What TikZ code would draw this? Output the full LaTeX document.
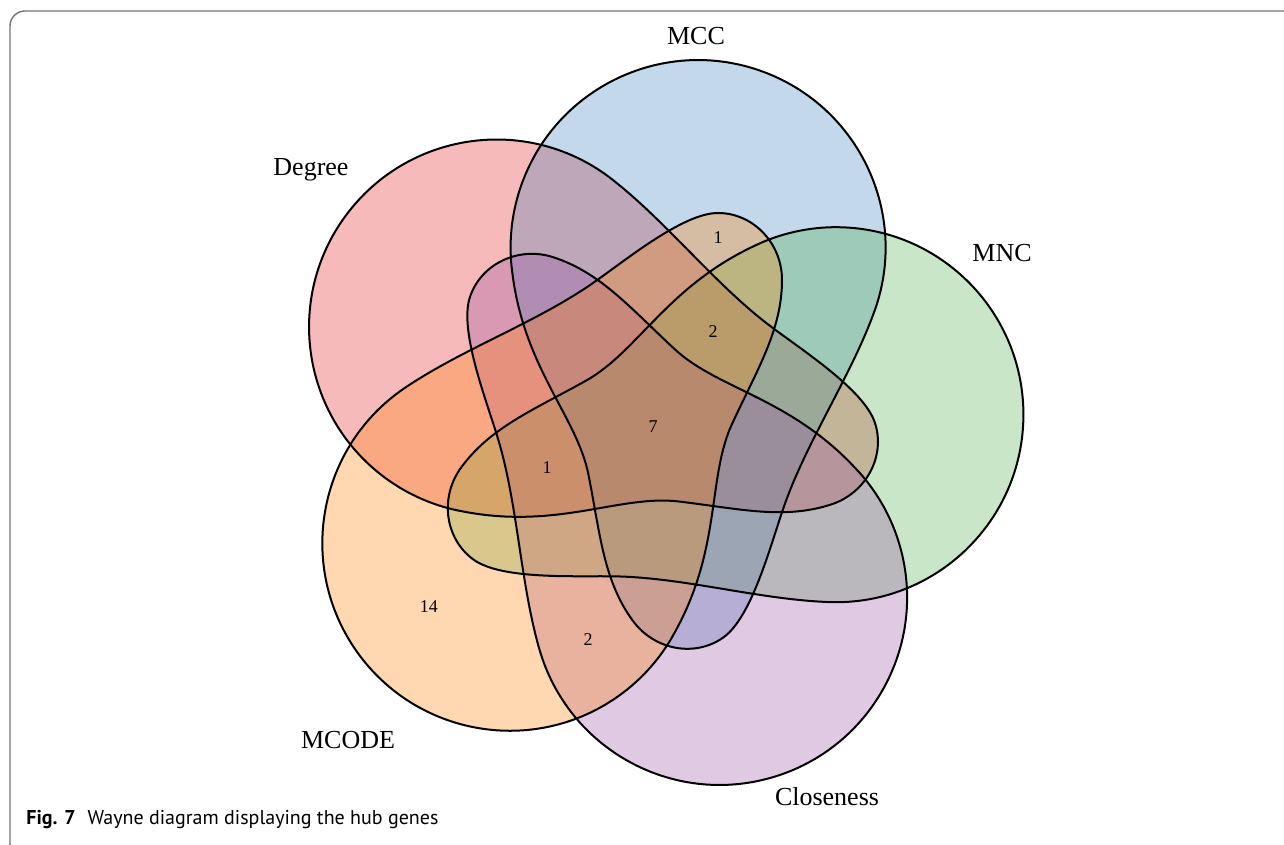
\documentclass[tikz,border=0pt]{standalone}
\usepackage{fontspec}
\setmainfont{Liberation Serif}
\newfontfamily\capfont{PT Sans}
\definecolor{cDeg}{HTML}{E41A1C}
\definecolor{cMCC}{HTML}{377EB8}
\definecolor{cMNC}{HTML}{4DAF4A}
\definecolor{cClo}{HTML}{984EA3}
\definecolor{cMCO}{HTML}{FF7F00}
% one set outline (MCODE position), in px relative to the centre of the diagram
\def\vennshape{(20.18,-210.95)
 .. controls (70.2,-124.4) and (54.8,-52.6) .. (80,2)
 .. controls (105.2,56.6) and (130,96) .. (130,146)
 .. controls (130,183) and (101,213) .. (66,213)
 .. controls (31,213) and (-26.2,165.8) .. (-59,143)
 .. controls (-116.4,103.1) and (-189,77.3) .. (-247.0,38.2)
 arc[start angle=124, end angle=330, radius=93.75pt] -- cycle}
\begin{document}
\begin{tikzpicture}[x=0.5pt,y=0.5pt,
  setfill/.style={fill opacity=0.3},
  setline/.style={draw=black, line width=1pt},
  setlabel/.style={font=\fontsize{13}{15}\selectfont, inner sep=0pt},
  countlabel/.style={font=\fontsize{9}{11}\selectfont, inner sep=0pt}]
\useasboundingbox (-652,-419) rectangle (632,426);
\begin{scope}
\clip (-652,-419) rectangle (632,426);
\draw[black!55, line width=0.7pt, rounded corners=7.5pt] (-642,415) rectangle (648,-432);
\end{scope}
% fills in drawing order
\fill[cDeg, setfill, rotate=-72] \vennshape;
\fill[cMCC, setfill, rotate=-144] \vennshape;
\fill[cMNC, setfill, rotate=144] \vennshape;
\fill[cClo, setfill, rotate=72] \vennshape;
\fill[cMCO, setfill] \vennshape;
% outlines
\draw[setline, rotate=-72] \vennshape;
\draw[setline, rotate=-144] \vennshape;
\draw[setline, rotate=144] \vennshape;
\draw[setline, rotate=72] \vennshape;
\draw[setline] \vennshape;
% set labels
\node[setlabel] (lmcc) at (44,390) {MCC};
\node[setlabel] (ldeg) at (-341,256) {Degree};
\node[setlabel] (lmnc) at (350,173) {MNC};
\node[setlabel] (lmco) at (-304,-314) {MCODE};
\node[setlabel] (lclo) at (175,-371) {Closeness};
% counts
\node[countlabel] (n1) at (66,188) {1};
\node[countlabel] (n2) at (61,94) {2};
\node[countlabel] (n3) at (1,-1) {7};
\node[countlabel] (n4) at (-105,-42) {1};
\node[countlabel] (n5) at (-223,-181) {14};
\node[countlabel] (n6) at (-64,-214) {2};
% caption
\node[anchor=base west, inner sep=0pt, font=\capfont\fontsize{10}{12}\selectfont] (cap) at (-626,-398) {\textbf{Fig. 7}\hspace{6pt}Wayne diagram displaying the hub genes};
\end{tikzpicture}
\end{document}
